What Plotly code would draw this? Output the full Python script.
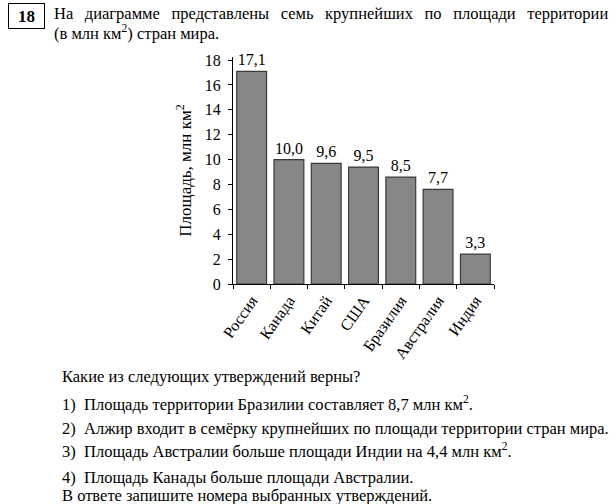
import plotly.graph_objects as go

countries = ["Россия", "Канада", "Китай", "США", "Бразилия", "Австралия", "Индия"]
bar_heights = [17.1, 10.0, 9.7, 9.4, 8.6, 7.6, 2.4]
bar_labels = ["17,1", "10,0", "9,6", "9,5", "8,5", "7,7", "3,3"]
y_ticks = [0, 2, 4, 6, 8, 10, 12, 14, 16, 18]

W, H = 616, 504
L, R, T, B = 233, 122, 57, 220
PW = W - L - R
PH = H - T - B

def px(x):
    return (x - L) / PW

def py(y):
    return (H - B - y) / PH

FONT = "Times New Roman, Liberation Serif, Tinos, DejaVu Serif, serif"
FS = 16.5

fig = go.Figure(go.Bar(
    x=countries, y=bar_heights, text=bar_labels, textposition="outside",
    textfont=dict(family=FONT, size=16, color="black"),
    marker=dict(color="#878787", line=dict(color="#3a3a3a", width=1.2)),
    cliponaxis=False, width=0.8,
))

YR = [0, 18.25]
fig.update_layout(
    width=W, height=H, margin=dict(l=L, r=R, t=T, b=B),
    paper_bgcolor="white", plot_bgcolor="white", showlegend=False,
    font=dict(family=FONT, size=16, color="black"),
    xaxis=dict(showline=True, linecolor="black", linewidth=1, ticks="outside",
               tickson="boundaries", ticklen=4, tickcolor="black", tickangle=-55,
               tickfont=dict(family=FONT, size=16), showgrid=False,
               range=[-0.5, 6.5]),
    yaxis=dict(showline=True, linecolor="black", linewidth=1, ticks="outside",
               ticklen=4, tickcolor="black", tickvals=y_ticks, range=YR,
               ticklabelstandoff=4,
               tickfont=dict(family=FONT, size=16), showgrid=False, zeroline=False,
               title=dict(text="Площадь, млн км<sup>2</sup>", standoff=8,
                          font=dict(family=FONT, size=17))),
    yaxis2=dict(overlaying="y", side="left", range=YR, tickvals=y_ticks,
                ticks="inside", ticklen=3, tickcolor="black", showticklabels=False,
                showline=False, showgrid=False, zeroline=False),
)

ann = []
ann.append(dict(text="<b>18</b>", x=px(26), y=py(15.5), xref="paper", yref="paper",
                showarrow=False, xanchor="center", yanchor="middle",
                font=dict(family=FONT, size=17), bordercolor="black", borderwidth=1,
                width=33, height=22))
G = " \u00a0\u2009"
top_lines = [
    (G.join("На диаграмме представлены семь крупнейших по площади территории".split(" ")), 52, 25),
    ("(в млн км<sup>2</sup>) стран мира.", 52, 45),
]
for t, x, y in top_lines:
    ann.append(dict(text=t, x=px(x), y=py(y), xref="paper", yref="paper", showarrow=False,
                    xanchor="left", yanchor="bottom", font=dict(family=FONT, size=FS)))
bottom_lines = [
    ("Какие из следующих утверждений верны?", 60, 388),
    ("1)\u00a0\u00a0Площадь территории Бразилии составляет 8,7 млн км<sup>2</sup>.", 60, 416),
    ("2)\u00a0\u00a0Алжир входит в семёрку крупнейших по площади территории стран мира.", 60, 440),
    ("3)\u00a0\u00a0Площадь Австралии больше площади Индии на 4,4 млн км<sup>2</sup>.", 60, 463),
    ("4)\u00a0\u00a0Площадь Канады больше площади Австралии.", 60, 489),
    ("В ответе запишите номера выбранных утверждений.", 60, 507),
]
for t, x, y in bottom_lines:
    ann.append(dict(text=t, x=px(x), y=py(y), xref="paper", yref="paper", showarrow=False,
                    xanchor="left", yanchor="bottom", font=dict(family=FONT, size=FS)))
fig.update_layout(annotations=ann)

fig.write_html("out.html")
